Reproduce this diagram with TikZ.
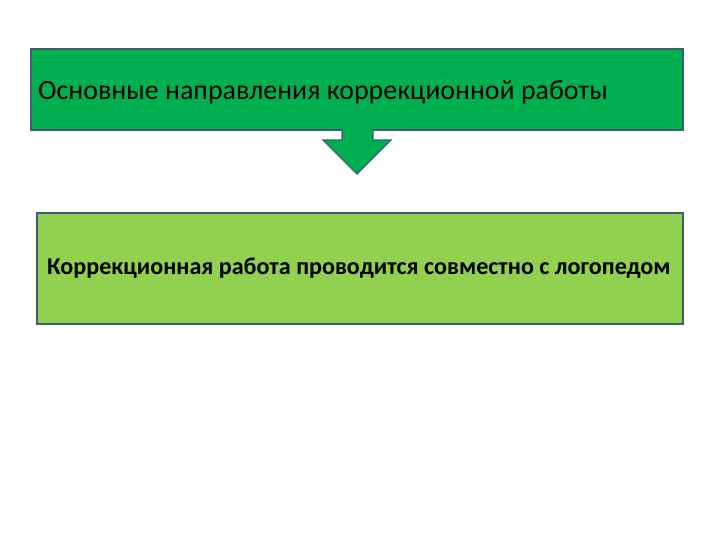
\documentclass[tikz,border=0pt]{standalone}
\usepackage{fontspec}
\setmainfont{Carlito}
\definecolor{topgreen}{HTML}{00B050}
\definecolor{lightgreen}{HTML}{92D050}
\definecolor{edgeblue}{HTML}{3A6070}
\begin{document}
\begin{tikzpicture}[x=1pt,y=-1pt,
  box/.style={draw=edgeblue,line width=1.8pt},
  lbl/.style={anchor=west,inner sep=0pt,text=black}]
\useasboundingbox (0,0) rectangle (720,540);
\fill[white] (0,0) rectangle (720,540);
% top box
\path[box,fill=topgreen] (31,49) rectangle (683,130);
\node[lbl,font=\fontsize{27.9}{32}\selectfont] (t1) at (38,92) {Основные направления коррекционной работы};
% arrow
\draw[draw=edgeblue,line width=1.2pt,fill=topgreen,line join=miter]
  (342,129) -- (342,140) -- (323,140) -- (357,174) -- (391,140) -- (373,140) -- (373,129);
\fill[topgreen] (343,127) rectangle (372,131);
% second box
\path[box,fill=lightgreen] (37,213) rectangle (683,324);
\node[lbl,font=\bfseries\fontsize{24.1}{28}\selectfont] (t2) at (47,268) {Коррекционная работа проводится совместно с логопедом};
\end{tikzpicture}
\end{document}
